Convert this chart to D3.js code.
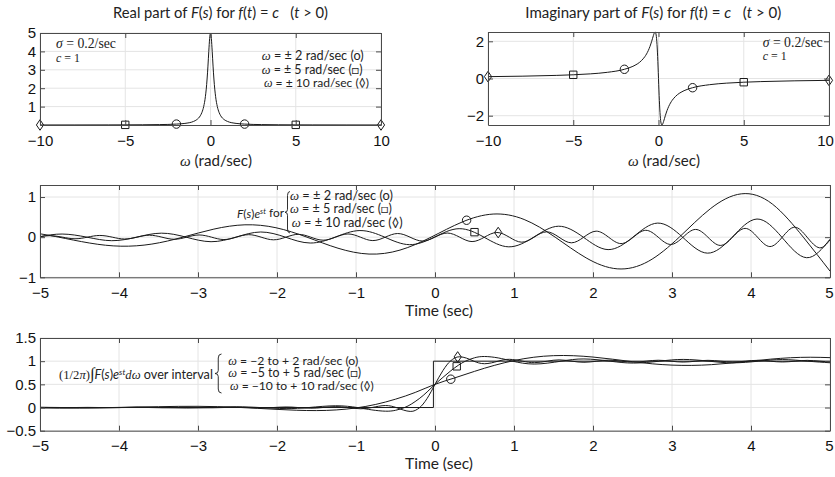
<!DOCTYPE html>
<html>
<head>
<meta charset="utf-8">
<script src="https://cdn.jsdelivr.net/npm/d3@7"></script>
<style>
  body { margin: 0; background: #fff; }
  svg text { font-family: Lato, "Open Sans", sans-serif; fill: #222; white-space: pre; }
</style>
</head>
<body>
<div class="canvas"></div>
<script>
// ---- data ----
// top panels: F(s) with sigma = 0.2, sampled in omega (rad/sec)
const omega = [-10, -8, -6, -5, -4, -3, -2, -1.5, -1, -0.8, -0.6, -0.5, -0.4, -0.3, -0.25, -0.2, -0.15, -0.1, -0.05, -0.025,
  0, 0.025, 0.05, 0.1, 0.15, 0.2, 0.25, 0.3, 0.4, 0.5, 0.6, 0.8, 1, 1.5, 2, 3, 4, 5, 6, 8, 10]
const realPart = [0.002, 0.0031, 0.0055, 0.008, 0.0125, 0.0221, 0.0495, 0.0873, 0.1923, 0.294, 0.5, 0.69, 1.0, 1.538, 1.951, 2.5, 3.2, 4.0, 4.706, 4.923,
  5, 4.923, 4.706, 4.0, 3.2, 2.5, 1.951, 1.538, 1.0, 0.69, 0.5, 0.294, 0.1923, 0.0873, 0.0495, 0.0221, 0.0125, 0.008, 0.0055, 0.0031, 0.002]
const imagPart = [0.0999, 0.1249, 0.1665, 0.1997, 0.2494, 0.3319, 0.495, 0.655, 0.9615, 1.176, 1.5, 1.724, 2.0, 2.308, 2.439, 2.5, 2.4, 2.0, 1.176, 0.615,
  0, -0.615, -1.176, -2.0, -2.4, -2.5, -2.439, -2.308, -2.0, -1.724, -1.5, -1.176, -0.9615, -0.655, -0.495, -0.3319, -0.2494, -0.1997, -0.1665, -0.1249, -0.0999]

const markOmega = [-10, -5, -2, 2, 5, 10]
const markShape = ['diamond', 'square', 'circle', 'circle', 'square', 'diamond']
const markRe = [0.002, 0.008, 0.0495, 0.0495, 0.008, 0.002]
const markIm = [0.0999, 0.1997, 0.495, -0.495, -0.1997, -0.0999]

// middle panel: F(s)e^st for omega = +-2, +-5, +-10  ([time, value])
const wave2 = [[-5, 0.084], [-4.762, 0], [-4.370, -0.147], [-3.977, -0.225], [-3.584, -0.172], [-3.191, 0], [-2.799, 0.201],
  [-2.406, 0.308], [-2.013, 0.235], [-1.621, 0], [-1.228, -0.275], [-0.835, -0.421], [-0.443, -0.322], [-0.050, 0],
  [0.343, 0.377], [0.736, 0.576], [1.128, 0.441], [1.521, 0], [1.913, -0.516], [2.306, -0.789], [2.699, -0.604],
  [3.092, 0], [3.484, 0.706], [3.877, 1.080], [4.270, 0.826], [4.662, 0], [5, -0.845]]
const wave5 = [[-5, 0.013], [-4.720, 0.078], [-4.406, 0], [-4.092, -0.088], [-3.778, 0], [-3.464, 0.100], [-3.150, 0],
  [-2.835, -0.113], [-2.521, 0], [-2.207, 0.129], [-1.893, 0], [-1.579, -0.146], [-1.265, 0], [-0.950, 0.165],
  [-0.636, 0], [-0.322, -0.187], [-0.008, 0], [0.306, 0.212], [0.620, 0], [0.934, -0.241], [1.249, 0], [1.563, 0.273],
  [1.877, 0], [2.191, -0.310], [2.505, 0], [2.819, 0.351], [3.134, 0], [3.448, -0.398], [3.762, 0], [4.076, 0.452],
  [4.390, 0], [4.704, -0.512], [5, -0.051]]
const wave10 = [[-5, 0.010], [-4.871, 0.038], [-4.714, 0], [-4.557, -0.040], [-4.400, 0], [-4.243, 0.043], [-4.085, 0],
  [-3.929, -0.046], [-3.771, 0], [-3.615, 0.049], [-3.457, 0], [-3.301, -0.052], [-3.143, 0], [-2.987, 0.055],
  [-2.829, 0], [-2.672, -0.059], [-2.515, 0], [-2.358, 0.062], [-2.201, 0], [-2.044, -0.066], [-1.887, 0],
  [-1.730, 0.071], [-1.573, 0], [-1.416, -0.075], [-1.259, 0], [-1.102, 0.080], [-0.944, 0], [-0.787, -0.085],
  [-0.630, 0], [-0.473, 0.091], [-0.316, 0], [-0.159, -0.097], [-0.002, 0], [0.155, 0.103], [0.312, 0],
  [0.469, -0.110], [0.626, 0], [0.783, 0.117], [0.940, 0], [1.098, -0.125], [1.255, 0], [1.412, 0.133], [1.569, 0],
  [1.726, -0.141], [1.883, 0], [2.040, 0.150], [2.197, 0], [2.354, -0.160], [2.511, 0], [2.668, 0.171], [2.825, 0],
  [2.983, -0.182], [3.140, 0], [3.297, 0.193], [3.454, 0], [3.611, -0.206], [3.768, 0], [3.925, 0.219], [4.082, 0],
  [4.239, -0.234], [4.396, 0], [4.553, 0.249], [4.710, 0], [4.867, -0.265], [5, -0.066]]
const waveMarks = [[0.4, 0.422], [0.5, 0.125], [0.8, 0.115]]

// bottom panel: (1/2pi) integral over -W..W, plus the step f(t)
const stepFn = [[-5, 0], [-0.02, 0], [-0.02, 1], [5, 1]]
const sum2 = [[-5, -0.010], [-4.75, -0.013], [-4.5, -0.012], [-4.25, -0.008], [-4, -0.001], [-3.75, 0.009], [-3.5, 0.018],
  [-3.25, 0.025], [-3, 0.026], [-2.75, 0.019], [-2.5, 0.004], [-2.25, -0.017], [-2, -0.040], [-1.75, -0.059],
  [-1.5, -0.066], [-1.25, -0.052], [-1, -0.009], [-0.75, 0.067], [-0.5, 0.180], [-0.25, 0.326], [0, 0.5],
  [0.25, 0.640], [0.5, 0.780], [0.75, 0.909], [1, 1.013], [1.25, 1.085], [1.5, 1.119], [1.75, 1.118], [2, 1.089],
  [2.25, 1.042], [2.5, 0.989], [2.75, 0.943], [3, 0.915], [3.25, 0.909], [3.5, 0.925], [3.75, 0.960], [4, 1.002],
  [4.25, 1.044], [4.5, 1.074], [4.75, 1.085], [5, 1.076]]
const sum5 = [[-5, 0.005], [-4.72, 0], [-4.398, -0.006], [-4.094, 0], [-3.770, 0.008], [-3.468, 0], [-3.142, -0.011],
  [-2.842, 0], [-2.513, 0.015], [-2.218, 0], [-1.885, -0.023], [-1.596, 0], [-1.257, 0.038], [-0.984, 0],
  [-0.8, -0.051], [-0.628, -0.079], [-0.5, -0.060], [-0.385, 0], [-0.3, 0.074], [-0.2, 0.191], [-0.1, 0.336], [0, 0.5],
  [0.1, 0.650], [0.2, 0.793], [0.3, 0.917], [0.385, 1.0], [0.5, 1.073], [0.628, 1.101], [0.8, 1.070], [0.984, 1.0],
  [1.257, 0.938], [1.596, 1.0], [1.885, 1.048], [2.218, 1.0], [2.513, 0.959], [2.842, 1.0], [3.142, 1.038],
  [3.468, 1.0], [3.770, 0.964], [4.094, 1.0], [4.398, 1.035], [4.72, 1.0], [5, 0.966]]
const sum10 = [[-5, 0.002], [-4.872, 0], [-4.712, -0.003], [-4.558, 0], [-4.398, 0.003], [-4.244, 0], [-4.084, -0.003],
  [-3.93, 0], [-3.770, 0.004], [-3.616, 0], [-3.456, -0.005], [-3.302, 0], [-3.142, 0.005], [-2.988, 0],
  [-2.827, -0.006], [-2.674, 0], [-2.513, 0.008], [-2.36, 0], [-2.199, -0.009], [-2.047, 0], [-1.885, 0.012],
  [-1.734, 0], [-1.571, -0.015], [-1.421, 0], [-1.257, 0.020], [-1.109, 0], [-0.942, -0.027], [-0.798, 0],
  [-0.628, 0.043], [-0.492, 0], [-0.4, -0.055], [-0.314, -0.084], [-0.25, -0.063], [-0.193, 0], [-0.15, 0.076],
  [-0.1, 0.195], [-0.05, 0.340], [0, 0.5], [0.05, 0.654], [0.1, 0.797], [0.15, 0.919], [0.193, 1.0], [0.25, 1.069],
  [0.314, 1.095], [0.4, 1.065], [0.492, 1.0], [0.628, 0.945], [0.798, 1.0], [0.942, 1.040], [1.109, 1.0],
  [1.257, 0.968], [1.421, 1.0], [1.571, 1.028], [1.734, 1.0], [1.885, 0.976], [2.047, 1.0], [2.199, 1.022],
  [2.36, 1.0], [2.513, 0.979], [2.674, 1.0], [2.827, 1.020], [2.988, 1.0], [3.142, 0.981], [3.302, 1.0],
  [3.456, 1.018], [3.616, 1.0], [3.770, 0.982], [3.93, 1.0], [4.084, 1.018], [4.244, 1.0], [4.398, 0.983],
  [4.558, 1.0], [4.712, 1.017], [4.872, 1.0], [5, 0.983]]
const sumMarks = [[0.2, 0.611], [0.275, 0.889], [0.287, 1.091]]

const omegaTicks = [-10, -5, 0, 5, 10]
const timeTicks = [-5, -4, -3, -2, -1, 0, 1, 2, 3, 4, 5]

// ---- drawing ----
const serif = '"Liberation Serif", "DejaVu Serif", serif'
const gridColor = '#e4e4e4'
const axisColor = '#4a4a4a'
const ink = '#1a1a1a'
const fmt = d3.format('')

const svg = d3.select('.canvas')
  .append('svg')
  .attr('width', 835)
  .attr('height', 477)

let clipId = 0

function makePanel(xr, yr, xDom, yDom, xTicks, yTicks) {
  const x = d3.scaleLinear().domain(xDom).range(xr)
  const y = d3.scaleLinear().domain(yDom).range(yr)
  const g = svg.append('g')

  // grid
  g.append('g').selectAll('line').data(xTicks).join('line')
    .attr('x1', d => x(d)).attr('x2', d => x(d))
    .attr('y1', yr[0]).attr('y2', yr[1])
    .attr('stroke', gridColor)
  g.append('g').selectAll('line').data(yTicks).join('line')
    .attr('y1', d => y(d)).attr('y2', d => y(d))
    .attr('x1', xr[0]).attr('x2', xr[1])
    .attr('stroke', gridColor)

  const id = 'clip' + (clipId++)
  svg.append('clipPath').attr('id', id)
    .append('rect')
    .attr('x', xr[0]).attr('y', yr[1] - 1)
    .attr('width', xr[1] - xr[0]).attr('height', yr[0] - yr[1] + 2)

  const data = g.append('g').attr('clip-path', `url(#${id})`)
  const marks = g.append('g')
  const axes = g.append('g')

  // axes, ticks pointing inward on all four sides
  const bottom = axes.append('g').attr('transform', `translate(0,${yr[0]})`)
    .call(d3.axisBottom(x).tickValues(xTicks).tickSize(-5).tickSizeOuter(0).tickPadding(10).tickFormat(fmt))
  axes.append('g').attr('transform', `translate(0,${yr[1]})`)
    .call(d3.axisTop(x).tickValues(xTicks).tickSize(-5).tickSizeOuter(0).tickFormat(''))
  axes.append('g').attr('transform', `translate(${xr[0]},0)`)
    .call(d3.axisLeft(y).tickValues(yTicks).tickSize(-5).tickSizeOuter(0).tickPadding(4).tickFormat(fmt))
  axes.append('g').attr('transform', `translate(${xr[1]},0)`)
    .call(d3.axisRight(y).tickValues(yTicks).tickSize(-5).tickSizeOuter(0).tickFormat(''))

  axes.selectAll('.domain').attr('stroke', axisColor)
  axes.selectAll('.tick line').attr('stroke', axisColor)
  axes.selectAll('.tick text')
    .style('font-family', '"Liberation Sans", Arial, sans-serif')
    .style('font-size', '15px')
    .style('fill', '#111')

  return { x, y, data, marks, bottom }
}

function drawLine(p, pts, curve) {
  p.data.append('path')
    .datum(pts)
    .attr('fill', 'none')
    .attr('stroke', ink)
    .attr('stroke-width', 1)
    .attr('d', d3.line().x(d => p.x(d[0])).y(d => p.y(d[1])).curve(curve))
}

function marker(p, shape, xv, yv) {
  const cx = p.x(xv), cy = p.y(yv)
  let d
  if (shape === 'circle') d = d3.symbol(d3.symbolCircle, 56)()
  else if (shape === 'square') d = 'M-3.7,-3.7H3.7V3.7H-3.7Z'
  else d = 'M0,-5.3L3.6,0L0,5.3L-3.6,0Z'
  p.marks.append('path')
    .attr('d', d)
    .attr('transform', `translate(${cx},${cy})`)
    .attr('fill', 'none')
    .attr('stroke', ink)
    .attr('stroke-width', 1)
}

// rich text: parts are [string, flags]; i = italic, r = serif, ^ = superscript, v = back to baseline, b = big
function rich(x, y, parts, size, width, anchor) {
  const t = svg.append('text')
    .attr('x', x).attr('y', y)
    .attr('text-anchor', anchor || 'start')
    .style('font-size', size + 'px')
  parts.forEach(([str, fl]) => {
    const s = t.append('tspan').text(str)
    if (fl.includes('i')) s.style('font-style', 'italic')
    if (fl.includes('r')) s.style('font-family', serif)
    if (fl.includes('^')) s.attr('dy', '-0.45em').style('font-size', '0.65em')
    if (fl.includes('v')) s.attr('dy', '0.29em')
    if (fl.includes('b')) s.style('font-size', '1.3em')
  })
  if (width) {
    const w = t.node().getComputedTextLength()
    t.style('font-size', (size * width / w) + 'px')
  }
  return t
}

function brace(x, y0, y1, w) {
  const m = (y0 + y1) / 2, h = w / 2
  svg.append('path')
    .attr('d', `M${x + w},${y0} Q${x + h},${y0} ${x + h},${y0 + 4} L${x + h},${m - 3} Q${x + h},${m} ${x},${m}` +
      ` Q${x + h},${m} ${x + h},${m + 3} L${x + h},${y1 - 4} Q${x + h},${y1} ${x + w},${y1}`)
    .attr('fill', 'none')
    .attr('stroke', ink)
    .attr('stroke-width', 0.9)
}

// panel 1: real part
const p1 = makePanel([40, 381], [125, 33], [-10, 10], [0, 5], omegaTicks, [1, 2, 3, 4, 5])
drawLine(p1, omega.map((w, i) => [w, realPart[i]]), d3.curveMonotoneX)
markOmega.forEach((w, i) => marker(p1, markShape[i], w, markRe[i]))

// panel 2: imaginary part
const p2 = makePanel([488, 829], [125, 32], [-10, 10], [-2.5, 2.5], omegaTicks, [-2, 0, 2])
drawLine(p2, omega.map((w, i) => [w, imagPart[i]]), d3.curveMonotoneX)
markOmega.forEach((w, i) => marker(p2, markShape[i], w, markIm[i]))
// keep the last label inside the page
p2.bottom.selectAll('.tick text').filter(d => d === 10).attr('dx', -4)

// panel 3: F(s)e^st
const p3 = makePanel([40, 830], [277.3, 185], [-5, 5], [-1, 1.3], timeTicks, [-1, 0, 1])
;[wave2, wave5, wave10].forEach(s => drawLine(p3, s, d3.curveNatural))
waveMarks.forEach((m, i) => marker(p3, ['circle', 'square', 'diamond'][i], m[0], m[1]))
p3.bottom.selectAll('.tick text').filter(d => d === 5).attr('dx', -1)

// panel 4: partial inverse transforms
const p4 = makePanel([40, 830], [430.7, 338], [-5, 5], [-0.5, 1.5], timeTicks, [-0.5, 0, 0.5, 1, 1.5])
drawLine(p4, stepFn, d3.curveLinear)
;[sum2, sum5, sum10].forEach(s => drawLine(p4, s, d3.curveNatural))
sumMarks.forEach((m, i) => marker(p4, ['circle', 'square', 'diamond'][i], m[0], m[1]))
p4.bottom.selectAll('.tick text').filter(d => d === 5).attr('dx', -1)

// titles
rich(220.5, 18, [['Real part of ', ''], ['F', 'i'], ['(', ''], ['s', 'i'], [') for ', ''], ['f', 'i'], ['(', ''], ['t', 'i'],
  [') = ', ''], ['c', 'i'], ['   (', ''], ['t', 'i'], [' > 0)', '']], 13, 215, 'middle')
rich(653.3, 18, [['Imaginary part of ', ''], ['F', 'i'], ['(', ''], ['s', 'i'], [') for ', ''], ['f', 'i'], ['(', ''], ['t', 'i'],
  [') = ', ''], ['c', 'i'], ['   (', ''], ['t', 'i'], [' > 0)', '']], 13, 256, 'middle')

// axis labels
rich(216, 166, [['ω', 'ir'], [' (rad/sec)', '']], 12, 72, 'middle')
rich(664, 166, [['ω', 'ir'], [' (rad/sec)', '']], 12, 72, 'middle')
rich(439, 316, [['Time (sec)', '']], 12, 68, 'middle')
rich(439, 469, [['Time (sec)', '']], 12, 68, 'middle')

// panel annotations
rich(56, 47.5, [['σ', 'ir'], [' = 0.2/sec', 'r']], 12, 60)
rich(56, 62, [['c', 'ir'], [' = 1', 'r']], 12, 24)
rich(762.7, 47, [['σ', 'ir'], [' = 0.2/sec', 'r']], 12, 60)
rich(762.7, 59.5, [['c', 'ir'], [' = 1', 'r']], 12, 24)

rich(261.7, 60, [['ω', 'ir'], [' = ± 2 rad/sec (o)', '']], 11, 102)
rich(261.7, 73.5, [['ω', 'ir'], [' = ± 5 rad/sec (□)', '']], 11, 101)
rich(264, 87, [['ω', 'ir'], [' = ± 10 rad/sec (◊)', '']], 11, 105)

rich(284, 217.5, [['F', 'i'], ['(', ''], ['s', 'i'], [')', ''], ['e', 'i'], ['st', 'i^'], [' for', 'v']], 11, 47, 'end')
brace(285, 191.5, 233, 5)
rich(290, 200, [['ω', 'ir'], [' = ± 2 rad/sec (o)', '']], 11, 103)
rich(290, 213.3, [['ω', 'ir'], [' = ± 5 rad/sec (□)', '']], 11, 102)
rich(291.7, 226.7, [['ω', 'ir'], [' = ± 10 rad/sec (◊)', '']], 11, 111)

rich(59, 379, [['(1/2', 'r'], ['π', 'ir'], [')', 'r'], ['∫', 'rb'], ['F', 'i'], ['(', ''], ['s', 'i'], [')', ''], ['e', 'i'],
  ['st', 'i^'], ['d', 'irv'], ['ω', 'ir'], [' over interval', '']], 11, 154)
brace(215, 354, 393, 6.5)
rich(228.3, 364.5, [['ω', 'ir'], [' = −2 to + 2 rad/sec (o)', '']], 11, 130)
rich(228.3, 377, [['ω', 'ir'], [' = −5 to + 5 rad/sec (□)', '']], 11, 133)
rich(230, 389.5, [['ω', 'ir'], [' = −10 to + 10 rad/sec (◊)', '']], 11, 144)
</script>
</body>
</html>
